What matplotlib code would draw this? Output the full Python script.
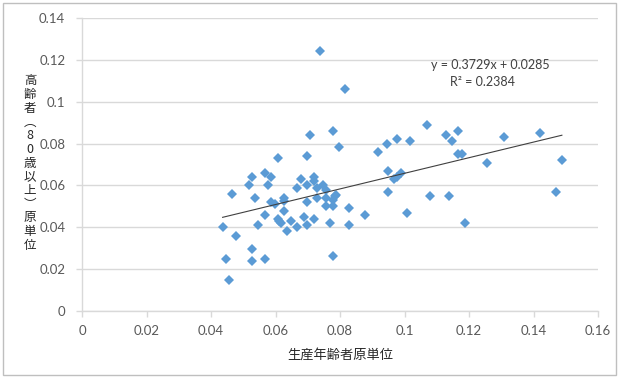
import numpy as np
import matplotlib
matplotlib.use("Agg")
import matplotlib.pyplot as plt
from matplotlib.patches import Rectangle

plt.rcParams['font.family'] = ['Lato', 'Noto Sans CJK JP', 'DejaVu Sans']

# 生産年齢者原単位 (x) / 高齢者(80歳以上)原単位 (y)
x_vals = [0.0436, 0.0446, 0.0456, 0.0466, 0.0477, 0.0517, 0.0526, 0.0526, 0.0526, 0.0536,
          0.0547, 0.0567, 0.0567, 0.0567, 0.0577, 0.0587, 0.0587, 0.0598, 0.0607, 0.0607,
          0.0612, 0.0617, 0.0627, 0.0627, 0.0627, 0.0637, 0.0647, 0.0668, 0.0668, 0.0678,
          0.0688, 0.0698, 0.0698, 0.0698, 0.0698, 0.0718, 0.0718, 0.0718, 0.0728, 0.0728,
          0.0748, 0.0758, 0.0758, 0.0758, 0.0768, 0.0778, 0.0778, 0.0778, 0.0784, 0.0789,
          0.0798, 0.0828, 0.0828, 0.0877, 0.0917, 0.0738, 0.0816, 0.0707, 0.0777, 0.0947,
          0.0977, 0.1017, 0.1069, 0.1130, 0.1167, 0.1146, 0.1167, 0.1177, 0.1257, 0.1309,
          0.1419, 0.1488, 0.1470, 0.0948, 0.0948, 0.0967, 0.0978, 0.0988, 0.1008, 0.1078,
          0.1137, 0.1188]
y_vals = [0.0400, 0.0248, 0.0149, 0.0560, 0.0360, 0.0601, 0.0640, 0.0298, 0.0240, 0.0540,
          0.0409, 0.0659, 0.0460, 0.0248, 0.0601, 0.0640, 0.0519, 0.0511, 0.0731, 0.0440,
          0.0429, 0.0419, 0.0540, 0.0527, 0.0479, 0.0380, 0.0430, 0.0589, 0.0400, 0.0631,
          0.0449, 0.0741, 0.0601, 0.0519, 0.0409, 0.0640, 0.0620, 0.0440, 0.0589, 0.0540,
          0.0601, 0.0579, 0.0540, 0.0500, 0.0419, 0.0530, 0.0500, 0.0261, 0.0549, 0.0554,
          0.0782, 0.0491, 0.0409, 0.0460, 0.0758, 0.1241, 0.1061, 0.0841, 0.0861, 0.0799,
          0.0822, 0.0811, 0.0889, 0.0839, 0.0861, 0.0811, 0.0749, 0.0749, 0.0709, 0.0830,
          0.0849, 0.0721, 0.0569, 0.0669, 0.0569, 0.0631, 0.0642, 0.0661, 0.0470, 0.0549,
          0.0549, 0.0419]

# trendline shown on the chart
slope = 0.3729
intercept = 0.0285
r2 = 0.2384

x_ticks = [0, 0.02, 0.04, 0.06, 0.08, 0.1, 0.12, 0.14, 0.16]
x_ticklabels = ['0', '0.02', '0.04', '0.06', '0.08', '0.1', '0.12', '0.14', '0.16']
y_ticks = [0, 0.02, 0.04, 0.06, 0.08, 0.1, 0.12, 0.14]
y_ticklabels = ['0', '0.02', '0.04', '0.06', '0.08', '0.1', '0.12', '0.14']

x_title = '生産年齢者原単位'
y_title_chars = ['高', '齢', '者', '︵', '8', '0', '歳', '以', '上', '︶', '原', '単', '位']

grid_col = '#D9D9D9'
text_col = '#595959'

fig = plt.figure(figsize=(6.19, 3.78), dpi=100)
ax = fig.add_axes([82/619, 67/378, 516/619, 293/378])

ax.plot(x_vals, y_vals, linestyle='none', marker='D', markersize=4.6,
        color='#5B9BD5', markeredgewidth=0, zorder=3)

xs = np.array([min(x_vals), max(x_vals)])
ax.plot(xs, slope*xs + intercept, color='#404040', linewidth=0.8, zorder=4)

ax.set_xlim(0, 0.16)
ax.set_ylim(0, 0.14)
ax.set_xticks(x_ticks)
ax.set_xticklabels(x_ticklabels)
ax.set_yticks(y_ticks)
ax.set_yticklabels(y_ticklabels)
ax.yaxis.grid(True, color=grid_col, linewidth=1)
ax.set_axisbelow(True)
for s in ['top', 'right']:
    ax.spines[s].set_visible(False)
for s in ['left', 'bottom']:
    ax.spines[s].set_color(grid_col)
    ax.spines[s].set_linewidth(1)
ax.tick_params(axis='both', colors=grid_col, labelcolor=text_col, labelsize=9.5,
               length=4, width=1, direction='out')
ax.tick_params(axis='x', pad=6)
ax.tick_params(axis='y', pad=8)

ax.set_xlabel(x_title, fontsize=9.5, color='#262626', labelpad=8)

fig.text(30/619, 1 - 163/378, '\n'.join(y_title_chars), ha='center', va='center',
         fontsize=9, color='#262626', linespacing=1.07,
         family=['Noto Sans CJK JP', 'DejaVu Sans'])

fig.text(490/619, 1 - 65/378, 'y = 0.3729x + 0.0285', fontsize=9,
         color='#404040', ha='center', va='center')
fig.text(483/619, 1 - 82/378, 'R² = %.4f' % r2, fontsize=9, color='#404040',
         ha='center', va='center')

fig.patches.append(Rectangle((3/619, 3/378), 613/619, 372/378, transform=fig.transFigure,
                             fill=False, edgecolor='#BFBFBF', linewidth=1))

fig.savefig('out.png', dpi=100)
